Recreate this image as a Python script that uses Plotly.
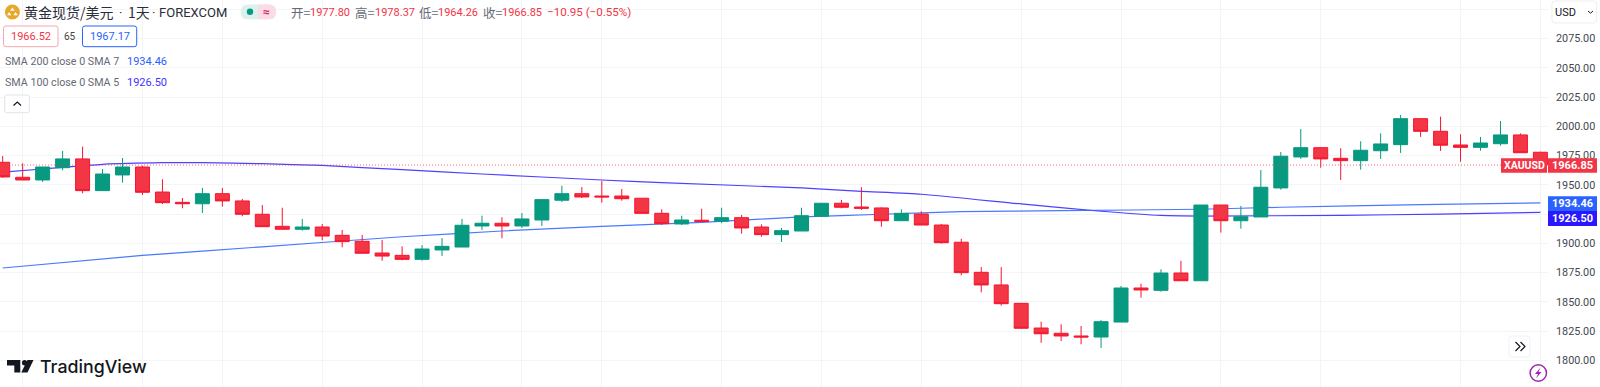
import plotly.graph_objects as go

# ---------- data ----------
candle_index = list(range(78))
opens = [1969.2,1956.4,1954.1,1964.6,1972.1,1945.0,1958.4,1965.2,1943.8,1935.0,
         1933.8,1942.4,1936.2,1924.8,1914.5,1912.0,1913.9,1906.8,1901.7,1891.7,
         1889.7,1886.3,1894.3,1896.8,1914.8,1917.1,1914.8,1919.9,1936.8,1942.4,
         1940.4,1940.4,1938.5,1925.6,1916.5,1919.7,1918.8,1921.9,1913.9,1907.4,
         1910.5,1923.1,1934.2,1931.0,1930.2,1919.3,1925.0,1915.6,1900.9,1875.2,
         1864.4,1848.7,1827.6,1823.1,1820.8,1819.9,1832.7,1861.8,1859.8,1874.6,
         1868.0,1932.7,1919.3,1922.5,1947.3,1973.8,1981.7,1972.6,1970.6,1979.1,
         1984.3,2006.5,1995.7,1984.0,1982.0,1985.1,1992.6,1977.80]
highs = [1974.6,1968.4,1965.2,1978.9,1982.6,1963.5,1972.9,1966.3,1954.7,1938.7,
         1947.3,1947.3,1937.9,1932.7,1930.4,1920.8,1916.5,1911.4,1907.1,1902.8,
         1897.4,1898.5,1904.5,1920.8,1923.6,1922.2,1925.9,1937.9,1949.2,1948.1,
         1953.2,1946.4,1938.5,1929.1,1923.6,1929.6,1930.4,1924.2,1916.2,1913.1,
         1930.4,1934.2,1937.0,1947.9,1930.8,1929.1,1927.4,1916.5,1903.9,1879.7,
         1879.7,1848.7,1833.0,1830.8,1829.3,1834.4,1863.5,1865.5,1877.8,1885.1,
         1932.7,1932.7,1931.9,1962.6,1978.0,1997.7,1982.3,1981.2,1987.2,1994.0,
         2009.6,2006.5,2008.2,1993.2,1990.9,2004.5,1994.0,1978.37]
lows = [1956.0,1954.0,1952.4,1962.4,1942.7,1945.0,1951.8,1941.3,1933.6,1929.9,
        1925.9,1931.3,1923.1,1914.2,1912.0,1910.8,1902.6,1896.6,1891.5,1885.1,
        1885.5,1885.1,1889.1,1896.8,1911.4,1904.3,1913.1,1914.8,1935.3,1938.7,
        1934.7,1936.4,1925.6,1915.6,1915.6,1918.0,1917.1,1908.2,1905.6,1901.1,
        1910.5,1923.1,1929.9,1928.5,1914.2,1919.3,1915.6,1899.7,1872.6,1858.1,
        1846.7,1827.4,1815.0,1816.5,1813.7,1810.5,1832.7,1853.5,1858.6,1868.0,
        1868.0,1909.1,1912.5,1922.5,1945.8,1972.1,1964.6,1954.1,1962.9,1972.1,
        1977.2,1990.9,1978.9,1969.7,1979.1,1983.4,1977.4,1964.26]
closes = [1956.7,1954.1,1965.2,1972.1,1945.0,1959.2,1965.2,1943.6,1934.7,1933.8,
          1942.4,1936.2,1924.8,1914.2,1912.0,1913.9,1906.2,1901.4,1891.5,1889.1,
          1886.3,1895.1,1897.4,1915.4,1917.1,1914.8,1920.8,1937.3,1942.4,1939.6,
          1939.6,1938.1,1925.6,1916.8,1919.9,1918.8,1921.9,1913.1,1907.4,1910.8,
          1923.6,1934.2,1930.8,1929.9,1919.3,1925.6,1915.6,1900.5,1874.9,1864.4,
          1848.4,1827.4,1822.7,1820.8,1819.9,1833.0,1861.8,1860.1,1874.6,1868.0,
          1932.7,1919.3,1922.7,1947.9,1974.4,1981.7,1972.1,1970.6,1979.5,1984.9,
          2006.5,1995.7,1983.8,1982.0,1985.7,1992.6,1977.4,1966.85]

sma100_x = [0,2,5,8,10,13,16,20,24,30,33,40,43,46,51,55,58,60,67,72,77]
sma100_y = [1960.8,1963.5,1967.5,1968.9,1968.9,1968.0,1966.5,1962.9,1959.2,1954.1,1951.8,
            1947.3,1944.4,1941.9,1933.6,1927.4,1923.8,1923.3,1923.9,1925.0,1926.50]
sma200_x = [0,7,13,20,25,30,35,40,44,48,53,60,64,71,77]
sma200_y = [1878.9,1889.6,1897.0,1905.6,1910.5,1914.5,1917.9,1922.5,1924.8,1927.0,1927.9,
            1929.1,1930.8,1933.0,1934.46]

price_ticks = [1800,1825,1850,1875,1900,1925,1950,1975,2000,2025,2050,2075,2100]
price_labels = ["1800.00","1825.00","1850.00","1875.00","1900.00","","1950.00",
                "1975.00","2000.00","2025.00","2050.00","2075.00",""]
time_grid = [1,7,11,16,21,26,30,36,41,46,51,56,61,66,73,77]
last_price = 1966.85

# ---------- look ----------
W, H, PW = 1600, 387, 1548
RED, GREEN, BLUE, INDIGO = "#f23645", "#089981", "#2962ff", "#2f1fff"
RED_LINE = "#f7152f"
INK, GREY, GRID = "#131722", "#666a75", "#f3f4f6"
ROBOTO = "Roboto, sans-serif"
CJK = "'Noto Sans CJK SC', Roboto, sans-serif"
X_RANGE = [-0.135, 77.38]
Y_RANGE = [1777.2, 2107.9]

def fx(px): return px / PW
def fy(py): return 1 - py / H

fig = go.Figure()
fig.add_trace(go.Scatter(x=sma100_x, y=sma100_y, mode="lines",
                         line=dict(color=INDIGO, width=1.2, shape="spline", smoothing=0.5), opacity=0.85,
                         name="SMA 100"))
fig.add_trace(go.Scatter(x=sma200_x, y=sma200_y, mode="lines",
                         line=dict(color=BLUE, width=1.2, shape="spline", smoothing=0.5), opacity=0.85,
                         name="SMA 200"))
fig.add_trace(go.Candlestick(x=candle_index, open=opens, high=highs, low=lows, close=closes,
                             xaxis="x2", yaxis="y2", whiskerwidth=0, name="XAUUSD",
                             increasing=dict(line=dict(color=GREEN, width=1), fillcolor=GREEN),
                             decreasing=dict(line=dict(color=RED_LINE, width=1), fillcolor=RED)))

annotations, shapes = [], []

def text(x, y, s, size=11, color=GREY, anchor="left", family=ROBOTO, weight=None):
    f = dict(size=size, color=color, family=family)
    if weight: f["weight"] = weight
    annotations.append(dict(xref="paper", yref="paper", x=fx(x), y=fy(y), text=s, showarrow=False,
                            xanchor=anchor, yanchor="middle", borderpad=0, borderwidth=0, font=f))

def rect(x0, y0, x1, y1, fill, line=None, width=1):
    shapes.append(dict(type="rect", xref="paper", yref="paper", layer="above",
                       x0=fx(x0), x1=fx(x1), y0=fy(y0), y1=fy(y1), fillcolor=fill,
                       line=dict(color=line or fill, width=width if line else 0)))

def path(points, fill=None, line=None, width=1, close=True):
    d = "M" + " L".join(f"{fx(a):.5f},{fy(b):.5f}" for a, b in points) + (" Z" if close else "")
    shapes.append(dict(type="path", xref="paper", yref="paper", layer="above", path=d,
                       fillcolor=fill or "rgba(0,0,0,0)",
                       line=dict(color=line or "rgba(0,0,0,0)", width=width if line else 0)))

def rrect(x0, y0, x1, y1, r, fill, line=None, width=1):
    d = (f"M{fx(x0+r):.5f},{fy(y0):.5f} L{fx(x1-r):.5f},{fy(y0):.5f} "
         f"Q{fx(x1):.5f},{fy(y0):.5f} {fx(x1):.5f},{fy(y0+r):.5f} L{fx(x1):.5f},{fy(y1-r):.5f} "
         f"Q{fx(x1):.5f},{fy(y1):.5f} {fx(x1-r):.5f},{fy(y1):.5f} L{fx(x0+r):.5f},{fy(y1):.5f} "
         f"Q{fx(x0):.5f},{fy(y1):.5f} {fx(x0):.5f},{fy(y1-r):.5f} L{fx(x0):.5f},{fy(y0+r):.5f} "
         f"Q{fx(x0):.5f},{fy(y0):.5f} {fx(x0+r):.5f},{fy(y0):.5f} Z")
    shapes.append(dict(type="path", xref="paper", yref="paper", layer="above", path=d, fillcolor=fill,
                       line=dict(color=line or fill, width=width if line else 0)))

def circle(cx, cy, r, fill, line=None, width=1):
    shapes.append(dict(type="circle", xref="paper", yref="paper", layer="above",
                       x0=fx(cx-r), x1=fx(cx+r), y0=fy(cy+r), y1=fy(cy-r), fillcolor=fill,
                       line=dict(color=line or fill, width=width if line else 0)))

# last-price dotted line
shapes.append(dict(type="line", xref="paper", yref="y", layer="above", x0=0, x1=1,
                   y0=last_price, y1=last_price,
                   line=dict(color="rgba(242,54,69,0.75)", width=1, dash="1px,2px")))

# header
circle(12.4, 12, 7.5, "#e8a92b")
path([(12.4,7.6),(14.6,10.8),(10.2,10.8)], fill="white")
path([(9.2,12),(11.4,15.2),(7,15.2)], fill="white")
path([(15.6,12),(17.8,15.2),(13.4,15.2)], fill="white")
text(24, 12.5, "黄金现货/美元", size=14, color="#2a2e39", family=CJK)
text(120.7, 12.5, "·", size=13, color="#2a2e39", anchor="center")
text(128, 12.5, "1天", size=14, color="#2a2e39", family=CJK)
text(153.3, 12.5, "·", size=13, color="#2a2e39", anchor="center")
text(159.3, 12.5, "FOREXCOM", size=13, color="#2a2e39")
rrect(240.7, 4.5, 276, 19.3, 7.4, "#dcf1ed")
rrect(258.3, 4.5, 276, 19.3, 7.4, "#fbdbe6")
rect(258.3, 4.5, 266, 19.3, "#fbdbe6")
circle(250, 11.8, 3.2, GREEN)
text(266, 11.5, "≈", size=12, color="#d81b60", anchor="center", weight=700)
for x_lab, lab, x_val, val in [(290.7,"开",310,"1977.80"),(355,"高",375,"1978.37"),
                               (419.3,"低",437.7,"1964.26"),(483.3,"收",501.7,"1966.85")]:
    text(x_lab, 12.5, f"{lab}=", size=12.5, color=GREY, family=CJK)
    text(x_val, 12.5, val, size=11, color=RED)
text(546.7, 12.5, "−10.95 (−0.55%)", size=11.6, color=RED)

rrect(3.5, 26, 58, 46.7, 2.5, "white", line="#f7a6ad")
text(30.7, 36.8, "1966.52", size=11, color=RED, anchor="center")
text(70, 36.8, "65", size=10, color="#444", anchor="center")
rrect(82.5, 26, 136.7, 46.7, 2.5, "white", line=BLUE)
text(110, 36.8, "1967.17", size=11, color=BLUE, anchor="center")

text(4.5, 61.8, "SMA 200 close 0 SMA 7", size=10.7, color=GREY)
text(126.7, 61.8, "1934.46", size=11, color=BLUE)
text(4.5, 82.7, "SMA 100 close 0 SMA 5", size=10.7, color=GREY)
text(126.7, 82.7, "1926.50", size=11, color="#3f33ff")
rrect(4.7, 95, 29.3, 112.7, 2, "white", line="#e0e3eb")
path([(13.5,105.5),(17.3,102),(21,105.5)], line=INK, width=1.2, close=False)

# logo
path([(7,360),(20.3,360),(20.3,372.5),(14.3,372.5),(14.3,365.5),(7,365.5)], fill=INK)
circle(24.6, 362.7, 2.7, INK)
path([(27.5,360),(33.5,360),(27.5,372.5),(21.3,372.5)], fill=INK)
text(40.3, 366.5, "TradingView", size=17.8, color=INK, family="Inter, Roboto, sans-serif", weight=500)

# right-hand controls
rrect(1552, 1, 1596.5, 23, 3, "white", line="#eceef2")
text(1555, 12, "USD", size=11, color=INK)
path([(1588,11),(1590.5,13.2),(1593,11)], line=INK, width=1, close=False)
rrect(1509, 336, 1530, 357, 3, "white", line="#eff0f3")
path([(1515.5,342),(1520,346.5),(1515.5,351)], line=INK, width=1.2, close=False)
path([(1520.5,342),(1525,346.5),(1520.5,351)], line=INK, width=1.2, close=False)
circle(1538.3, 373, 8.2, "white", line="#9c27b0", width=1.5)
path([(1540.5,367.5),(1535,374),(1538,374),(1536,378.5),(1541.5,372),(1538.5,372)], fill="#9c27b0")

# price tags
rect(1501, 158.3, 1547, 172.7, RED)
text(1524, 165.7, "XAUUSD", size=10.5, color="white", anchor="center", weight=700)
rect(1548, 158.3, 1597, 172.7, RED)
text(1572.5, 165.7, "1966.85", size=11, color="white", anchor="center", weight=700)
rect(1548, 196.3, 1597, 211, BLUE)
text(1572.5, 203.7, "1934.46", size=11, color="white", anchor="center", weight=700)
rect(1548, 211, 1597, 226, "#2a16ff")
text(1572.5, 218.7, "1926.50", size=11, color="white", anchor="center", weight=700)

fig.update_layout(
    width=W, height=H, margin=dict(l=0, r=W-PW, t=0, b=0, autoexpand=False),
    paper_bgcolor="white", plot_bgcolor="white", showlegend=False, boxgap=0.3, boxgroupgap=0,
    xaxis=dict(range=X_RANGE, tickmode="array", tickvals=time_grid, showticklabels=False, ticks="",
               showgrid=True, gridcolor=GRID, gridwidth=1, zeroline=False, showline=False, fixedrange=True),
    yaxis=dict(range=Y_RANGE, side="right", tickmode="array", tickvals=price_ticks, ticktext=price_labels,
               ticks="", showgrid=True, gridcolor=GRID, gridwidth=1, zeroline=False, showline=False,
               ticklabelstandoff=7, tickfont=dict(family=ROBOTO, size=10.8, color="#43474f"), fixedrange=True),
    xaxis2=dict(range=X_RANGE, overlaying="x", visible=False, rangeslider=dict(visible=False), fixedrange=True),
    yaxis2=dict(range=Y_RANGE, overlaying="y", visible=False, fixedrange=True),
    annotations=annotations, shapes=shapes,
)
fig.write_html("out.html", config={"displayModeBar": False},
               post_script="document.body.style.margin='0';document.body.style.overflow='hidden';")
